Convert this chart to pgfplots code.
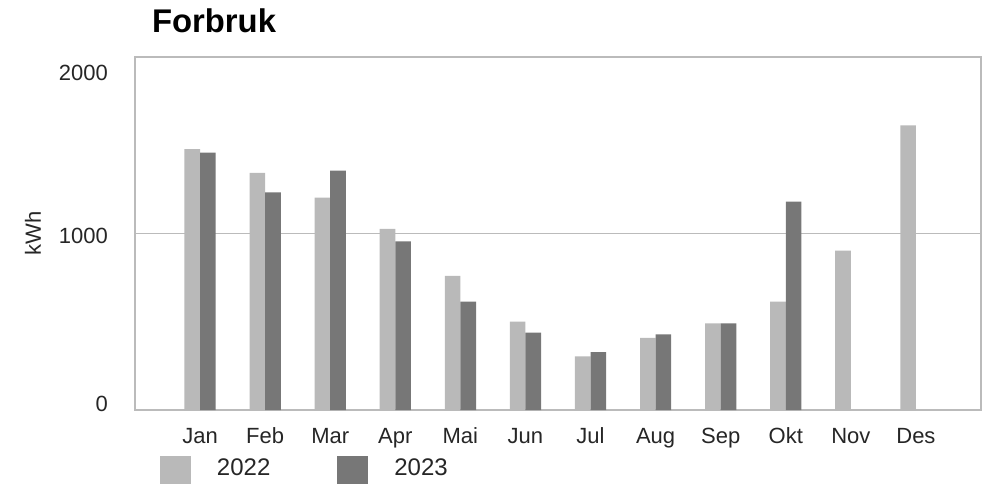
\documentclass[border=0pt]{standalone}
\usepackage{fontspec}
\setmainfont{Liberation Sans}
\usepackage{pgfplots}
\pgfplotsset{compat=1.18}
\definecolor{cA}{HTML}{B9B9B9}
\definecolor{cB}{HTML}{777777}
\definecolor{frame}{HTML}{BBBBBB}
\begin{document}
\begin{tikzpicture}
\useasboundingbox (-67.5pt,-36.5pt) rectangle (427pt,205pt);
\clip (-67.5pt,-36.5pt) rectangle (427pt,205pt);
\begin{axis}[
  at={(0pt,0pt)}, anchor=south west,
  scale only axis, width=423pt, height=176.65pt,
  xmin=-1, xmax=12, ymin=0, ymax=2000,
  xtick={0,...,11},
  xticklabels={Jan,Feb,Mar,Apr,Mai,Jun,Jul,Aug,Sep,Okt,Nov,Des},
  ytick={37,987,1910}, yticklabels={0,1000,2000},
  extra y ticks={1000}, extra y tick labels={},
  extra y tick style={grid=major, major grid style={draw=frame, line width=0.75pt}},
  major tick length=0pt,
  axis line style={draw=frame, line width=1pt},
  ticklabel style={font=\fontsize{11}{13}\selectfont, text=black!85},
  /pgf/number format/assume math mode=true,
  yticklabel style={inner sep=0pt, anchor=east, xshift=-13.35pt},
  xticklabel style={inner sep=0pt, anchor=base, yshift=-16.6pt},
  ylabel={kWh},
  ylabel style={font=\fontsize{11}{13}\selectfont, text=black!85, at={(axis description cs:0,0.5)}, anchor=center, yshift=51pt},
  title={\bfseries Forbruk},
  title style={font=\fontsize{16.4}{19}\selectfont, at={(axis description cs:0,1)}, anchor=base west, inner sep=0pt, xshift=8.35pt, yshift=6.35pt},
  legend columns=2,
  legend style={draw=none, fill=none, inner sep=0pt, outer sep=0pt,
    at={(axis description cs:0,0)}, anchor=north west, xshift=12.5pt, yshift=-23pt,
    font=\fontsize{12}{14}\selectfont, text=black!85,
    nodes={inner sep=0pt}, cells={anchor=west},
    /tikz/every odd column/.append style={column sep=13pt},
    /tikz/every even column/.append style={column sep=33.5pt}},
  legend image code/.code={\fill[#1] (0pt,-9.35pt) rectangle (15.5pt,6.15pt);},
]
\addplot[ybar, bar width=0.24, bar shift=-0.12, fill=cA, draw=none] coordinates {
(0,1477) (1,1343) (2,1202) (3,1025) (4,759) (5,500) (6,304) (7,409) (8,491) (9,613) (10,902) (11,1611)};
\addlegendentry{2022}
\addplot[ybar, bar width=0.24, bar shift=0.12, fill=cB, draw=none] coordinates {
(0,1457) (1,1232) (2,1355) (3,955) (4,613) (5,438) (6,327) (7,428) (8,491) (9,1179)};
\addlegendentry{2023}
\end{axis}
\end{tikzpicture}
\end{document}
